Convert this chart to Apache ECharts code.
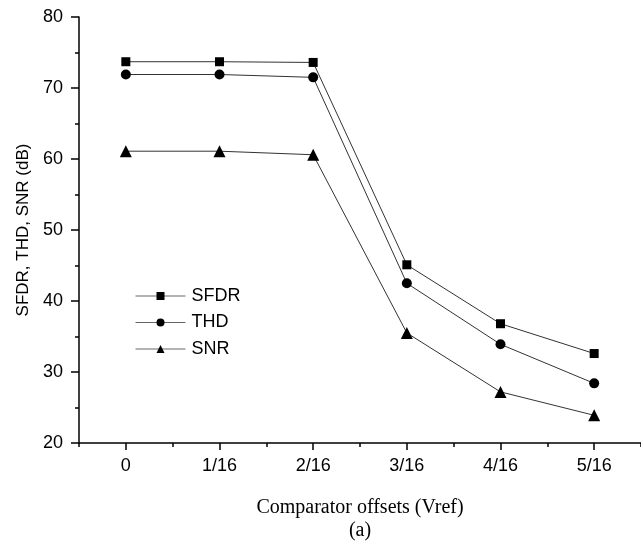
<!DOCTYPE html>
<html>
<head>
<meta charset="utf-8">
<script src="https://cdn.jsdelivr.net/npm/echarts@6/dist/echarts.min.js"></script>
<style>
  html, body { margin: 0; padding: 0; background: #fff; }
  #chart { width: 641px; height: 550px; }
</style>
</head>
<body>
<div id="chart"></div>
<script>
// Comparator offset levels (fractions of Vref)
const offsets = ['0', '1/16', '2/16', '3/16', '4/16', '5/16'];

// Dynamic performance (dB) versus comparator offset
const sfdr = [73.7, 73.7, 73.6, 45.1, 36.8, 32.6];
const thd  = [71.9, 71.9, 71.5, 42.5, 33.9, 28.4];
const snr  = [61.1, 61.1, 60.6, 35.5, 27.2, 23.9];

const yTicks = { min: 20, max: 80, step: 10 };

const sans = '"Liberation Sans", Arial, sans-serif';
const serif = '"Liberation Serif", "Times New Roman", serif';
const ink = '#000';
const lineInk = '#333';

function lineSeries(name, data, symbol, size) {
  return {
    name: name,
    type: 'line',
    xAxisIndex: 0,
    data: data,
    symbol: symbol,
    symbolSize: size,
    showAllSymbol: true,
    lineStyle: { color: lineInk, width: 1 },
    itemStyle: { color: ink, borderWidth: 0 },
    emphasis: { disabled: true },
    animation: false
  };
}

const chart = echarts.init(document.getElementById('chart'), null, { renderer: 'canvas' });

chart.setOption({
  backgroundColor: '#fff',
  animation: false,
  grid: { left: 79, right: -7, top: 17, bottom: 107, containLabel: false },
  legend: {
    left: 135,
    top: 287,
    orient: 'vertical',
    padding: 0,
    itemWidth: 50,
    itemHeight: 10,
    itemGap: 8.5,
    lineStyle: { color: '#666', width: 1 },
    textStyle: { fontFamily: sans, fontSize: 18, color: ink, padding: [0, 0, 0, 1] },
    data: ['SFDR', 'THD', 'SNR']
  },
  xAxis: [
    {
      type: 'category',
      data: offsets,
      boundaryGap: true,
      position: 'bottom',
      name: 'Comparator offsets (Vref)\n(a)',
      nameLocation: 'middle',
      nameGap: 53,
      nameTextStyle: { fontFamily: serif, fontSize: 20, color: ink, lineHeight: 23, verticalAlign: 'top' },
      axisLine: { show: true, lineStyle: { color: ink, width: 1.5 } },
      axisTick: { show: true, alignWithLabel: true, length: 7, lineStyle: { color: ink, width: 1.5 } },
      axisLabel: { fontFamily: sans, fontSize: 18, color: ink, margin: 14 },
      splitLine: { show: false }
    },
    {
      // short ticks on the category boundaries
      type: 'category',
      data: offsets,
      boundaryGap: true,
      position: 'bottom',
      axisLine: { show: false },
      axisTick: { show: true, alignWithLabel: false, length: 4, lineStyle: { color: ink, width: 1.5 } },
      axisLabel: { show: false },
      splitLine: { show: false }
    }
  ],
  yAxis: {
    type: 'value',
    min: yTicks.min,
    max: yTicks.max,
    interval: yTicks.step,
    name: 'SFDR, THD, SNR (dB)',
    nameLocation: 'middle',
    nameGap: 47,
    nameTextStyle: { fontFamily: sans, fontSize: 17, color: ink },
    axisLine: { show: true, lineStyle: { color: ink, width: 1.5 } },
    axisTick: { show: true, length: 8, lineStyle: { color: ink, width: 1.5 } },
    minorTick: { show: true, splitNumber: 2, length: 4, lineStyle: { color: ink, width: 1.5 } },
    axisLabel: { fontFamily: sans, fontSize: 18, color: ink, margin: 16 },
    splitLine: { show: false },
    minorSplitLine: { show: false }
  },
  series: [
    lineSeries('SFDR', sfdr, 'rect', 9),
    lineSeries('THD', thd, 'circle', 10),
    lineSeries('SNR', snr, 'triangle', 12)
  ]
});
</script>
</body>
</html>
